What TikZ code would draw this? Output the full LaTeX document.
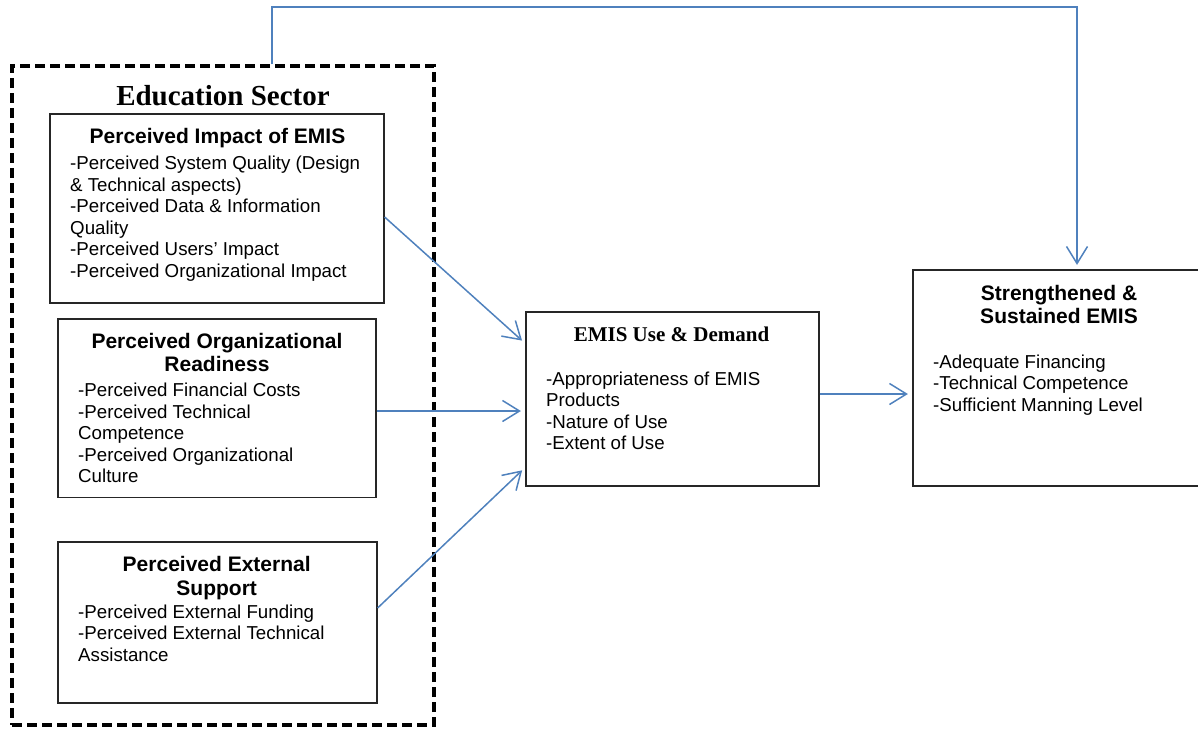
\documentclass[tikz,border=0pt]{standalone}
\usepackage{fontspec}
\setmainfont{Liberation Serif}
\setsansfont{Liberation Sans}
\usetikzlibrary{arrows.meta}
\definecolor{arrowblue}{HTML}{4F81BD}
\newcommand\blkleft[1]{\parbox[t]{340pt}{\raggedright #1}}
\newcommand\blkcenter[1]{\parbox[t]{340pt}{\centering #1}}
\tikzset{
  boxstyle/.style={draw=black!85, line width=1.2pt, rectangle, inner sep=0pt},
  bodytext/.style={anchor=base west, inner sep=0pt, font=\sffamily\fontsize{18.7}{21.5}\selectfont},
  titletext/.style={anchor=base, inner sep=0pt, font=\sffamily\bfseries\fontsize{21}{23.5}\selectfont},
  serieftitle/.style={anchor=base, inner sep=0pt, font=\rmfamily\bfseries},
  conn/.style={draw=arrowblue, line width=1.5pt, shorten >=4.5pt,
    -{Straight Barb[length=17pt,width=21pt,line width=1.5pt]}},
  sectorbox/.style={draw=black, line width=3.5pt, dash pattern=on 10pt off 5pt, rectangle, inner sep=0pt}
}
\begin{document}
\begin{tikzpicture}[x=1pt,y=-1pt]
\useasboundingbox (0,0) rectangle (1198,728);

% dashed education sector box
\node[sectorbox, minimum width=422pt, minimum height=659pt] (edu) at (223,395.5) {};
\node[serieftitle, font=\rmfamily\bfseries\fontsize{29}{33}\selectfont] (edut) at (223,105) {Education Sector};

% box 1
\node[boxstyle, minimum width=334pt, minimum height=189pt] (b1) at (217,208.5) {};
\node[titletext] (b1t) at (217.5,143) {\blkcenter{Perceived Impact of EMIS}};
\node[bodytext] (b1b) at (70,169.5) {\blkleft{-Perceived System Quality (Design\\
\& Technical aspects)\\
-Perceived Data \& Information\\
Quality\\
-Perceived Users’ Impact\\
-Perceived Organizational Impact}};

% box 2
\node[boxstyle, minimum width=318pt, minimum height=178.5pt] (b2) at (217,408.25) {};
\node[titletext] (b2t) at (217,348.3) {\blkcenter{Perceived Organizational\\Readiness}};
\node[bodytext] (b2b) at (78,396.7) {\blkleft{-Perceived Financial Costs\\
-Perceived Technical\\
Competence\\
-Perceived Organizational\\
Culture}};

% box 3
\node[boxstyle, minimum width=319pt, minimum height=161pt] (b3) at (217.5,622.5) {};
\node[titletext] (b3t) at (216.7,571.7) {\blkcenter{Perceived External\\Support}};
\node[bodytext] (b3b) at (78,618.3) {\blkleft{-Perceived External Funding\\
-Perceived External Technical\\
Assistance}};

% middle box
\node[boxstyle, minimum width=293pt, minimum height=174pt] (mid) at (672.5,399) {};
\node[serieftitle, font=\rmfamily\bfseries\fontsize{21}{24}\selectfont] (midt) at (671.5,341.7) {EMIS Use \& Demand};
\node[bodytext] (midb) at (546,385) {\blkleft{-Appropriateness of EMIS\\
Products\\
-Nature of Use\\
-Extent of Use}};

% right box
\node[boxstyle, minimum width=297pt, minimum height=216pt] (rbox) at (1061.5,378) {};
\node[titletext] (rt) at (1059,300) {\blkcenter{Strengthened \&\\Sustained EMIS}};
\node[bodytext] (rb) at (933,368.3) {\blkleft{-Adequate Financing\\
-Technical Competence\\
-Sufficient Manning Level}};

% connectors
\coordinate (fbtop) at (272,7);
\draw[conn] ([xshift=49pt]edu.north) |- (fbtop) -| ([xshift=15.5pt]rbox.north);
\draw[conn] ([yshift=-8.5pt]b1.east) -- ([yshift=55.4pt]mid.west);
\draw[conn] ([yshift=-2.75pt]b2.east) -- ([yshift=-12pt]mid.west);
\draw[conn] ([yshift=14.5pt]b3.east) -- ([yshift=-68.2pt]mid.west);
\draw[conn] ([yshift=5pt]mid.east) -- ([yshift=-16pt]rbox.west);
\end{tikzpicture}
\end{document}
